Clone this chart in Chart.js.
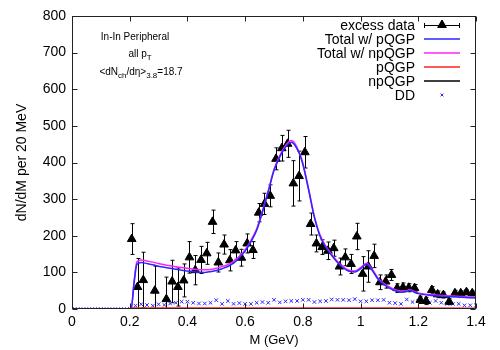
<!DOCTYPE html>
<html>
<head>
<meta charset="utf-8">
<script src="https://cdn.jsdelivr.net/npm/chart.js@4"></script>
<style>
  html, body { margin: 0; padding: 0; background: #fff; }
  #chart { display: block; }
</style>
</head>
<body>
<canvas id="chart" width="500" height="350"></canvas>
<script>
// --- values ---
const massTicks = [0, 0.2, 0.4, 0.6, 0.8, 1.0, 1.2, 1.4];
const yieldTicks = [0, 100, 200, 300, 400, 500, 600, 700, 800];
const seriesNames = ['excess data', 'Total w/ pQGP', 'Total w/ npQGP', 'pQGP', 'npQGP', 'DD'];

// excess data (triangles with error bars)
const excessM = [0.207, 0.227, 0.247, 0.287, 0.327, 0.347, 0.367, 0.387, 0.407, 0.427,
                 0.447, 0.467, 0.487, 0.507, 0.527, 0.547, 0.567, 0.587, 0.607, 0.627,
                 0.647, 0.667, 0.687, 0.707, 0.727, 0.747, 0.767, 0.787, 0.807, 0.827,
                 0.847, 0.867, 0.887, 0.907, 0.927, 0.947, 0.967, 0.987, 1.007, 1.027,
                 1.047, 1.067, 1.087, 1.107, 1.127, 1.147, 1.167, 1.187, 1.207, 1.227,
                 1.247, 1.267, 1.287, 1.307, 1.327, 1.347, 1.367, 1.387];
const excessY = [191, 60, 79, 50, 27, 75, 60, 78, 141, 106,
                 134, 152, 238, 127, 176, 133, 160, 140, 179, 161,
                 263, 287, 309, 410, 439, 451, 343, 363, 428, 232,
                 179, 169, 159, 166, 116, 141, 123, 198, 96, 116,
                 145, 73, 75, 93, 57, 59, 58, 57, 25, 22,
                 52, 40, 38, 20, 43, 43, 46, 43];
const excessErr = [42, 78, 76, 67, 60, 58, 52, 45, 43, 40,
                   37, 30, 32, 26, 26, 29, 24, 23, 26, 23,
                   25, 29, 30, 30, 35, 37, 62, 68, 43, 30,
                   23, 20, 24, 22, 23, 23, 26, 36, 47, 43,
                   32, 20, 18, 15, 12, 12, 11, 10, 10, 10,
                   9, 9, 8, 8, 8, 7, 7, 7];

// model curves
const curveM = [0, 0.1, 0.2, 0.205, 0.215, 0.225, 0.24, 0.26, 0.28, 0.30, 0.32,
                0.35, 0.38, 0.40, 0.43, 0.46, 0.48, 0.50,
                0.52, 0.54, 0.56, 0.58, 0.60, 0.62, 0.64,
                0.66, 0.68, 0.70, 0.72, 0.74, 0.76, 0.77,
                0.78, 0.79, 0.80, 0.82, 0.84, 0.86, 0.88,
                0.90, 0.92, 0.94, 0.96, 0.98, 1.00, 1.02,
                1.04, 1.06, 1.08, 1.10, 1.12, 1.14, 1.16,
                1.17, 1.18, 1.20, 1.25, 1.30, 1.35, 1.40];
const totalPqgpY = [0, 0, 0, 0, 70, 122, 127, 124, 121, 117, 114,
                    110, 106, 104, 101, 100, 102, 105,
                    110, 116, 125, 140, 158, 183, 215,
                    265, 320, 378, 415, 442, 455, 450,
                    437, 420, 395, 325, 250, 198, 168,
                    146, 127, 112, 103, 101, 110, 122,
                    106, 82, 67, 57, 50, 46, 48,
                    51, 48, 42, 37, 34, 32, 30];
const totalNpqgpY = [0, 0, 0, 0, 75, 129, 134, 131, 128, 124, 121,
                     117, 113, 111, 108, 107, 108, 111,
                     116, 121, 130, 144, 162, 187, 219,
                     268, 323, 381, 419, 446, 460, 455,
                     441, 423, 398, 328, 253, 201, 171,
                     149, 130, 115, 106, 104, 113, 125,
                     109, 85, 70, 60, 53, 49, 50,
                     53, 50, 44, 39, 36, 34, 32];
const qgpM = [0, 0.2, 0.21, 0.4, 0.6, 0.8, 1.0, 1.2, 1.4];
const pqgpY = [0, 0, 3, 3, 3, 3, 3, 3, 2];
const npqgpY = [0, 0, 1, 1, 1, 1, 1, 1, 1];

// DD background crosses
const ddM = [0, 0.02, 0.04, 0.06, 0.08, 0.10, 0.12, 0.14, 0.16, 0.18,
             0.20, 0.22, 0.24, 0.26, 0.28, 0.30, 0.32, 0.34, 0.36, 0.38,
             0.40, 0.42, 0.44, 0.46, 0.48, 0.50, 0.52, 0.54, 0.56, 0.58,
             0.60, 0.62, 0.64, 0.66, 0.68, 0.70, 0.72, 0.74, 0.76, 0.78,
             0.80, 0.82, 0.84, 0.86, 0.88, 0.90, 0.92, 0.94, 0.96, 0.98,
             1.00, 1.02, 1.04, 1.06, 1.08, 1.10, 1.12, 1.14, 1.16, 1.18,
             1.20, 1.22, 1.24, 1.26, 1.28, 1.30, 1.32, 1.34, 1.36, 1.38, 1.40];
const ddY = [0, 0, 0, 0, 0, 0, 0, 0, 0, 0,
             1, 9, 13, 11, 9, 13, 11, 15, 17, 20,
             20, 17, 15, 15, 17, 24, 14, 22, 14, 16,
             14, 14, 17, 19, 17, 25, 18, 21, 22, 22,
             25, 25, 19, 21, 22, 26, 25, 25, 24, 27,
             21, 21, 24, 24, 25, 17, 16, 14, 26, 19,
             22, 19, 17, 22, 17, 14, 14, 14, 10, 10, 10];

const BLUE = '#2828ff';
const MAGENTA = '#ff20ff';
const RED = '#ff2020';
const keyColors = ['#000', BLUE, MAGENTA, RED, '#000', BLUE];
const FONT = '"Liberation Sans", Arial, sans-serif';

Chart.defaults.font.family = FONT;
Chart.defaults.color = '#000';

const pts = (xs, ys) => xs.map((m, i) => ({ x: m, y: ys[i] }));

// --- error bars under the triangles ---
const errorBars = {
  id: 'errorBars',
  beforeDatasetsDraw(chart) {
    const { ctx, chartArea, scales: { x, y } } = chart;
    ctx.save();
    ctx.beginPath();
    ctx.rect(chartArea.left, chartArea.top, chartArea.right - chartArea.left, chartArea.bottom - chartArea.top);
    ctx.clip();
    ctx.strokeStyle = '#000';
    ctx.lineWidth = 1;
    excessM.forEach((m, i) => {
      const px = Math.round(x.getPixelForValue(m)) + 0.5;
      const hi = y.getPixelForValue(excessY[i] + excessErr[i]);
      const lo = y.getPixelForValue(excessY[i] - excessErr[i]);
      ctx.beginPath();
      ctx.moveTo(px, hi); ctx.lineTo(px, lo);
      ctx.moveTo(px - 2, hi); ctx.lineTo(px + 2, hi);
      ctx.moveTo(px - 2, lo); ctx.lineTo(px + 2, lo);
      ctx.stroke();
    });
    ctx.restore();
  }
};

// --- gnuplot style frame, inward ticks, key and label ---
const frameKey = {
  id: 'frameKey',
  afterDraw(chart) {
    const { ctx, chartArea: { left, right, top, bottom }, scales: { x, y } } = chart;
    const L = Math.round(left) + 0.5, R = Math.round(right) - 0.5;
    const T = Math.round(top) + 0.5, B = Math.round(bottom) - 0.5;
    ctx.save();
    ctx.strokeStyle = '#222';
    ctx.lineWidth = 1;
    ctx.strokeRect(L, T, R - L, B - T);
    ctx.beginPath();
    massTicks.forEach(v => {
      const px = Math.round(x.getPixelForValue(v)) + 0.5;
      ctx.moveTo(px, B); ctx.lineTo(px, B - 5);
      ctx.moveTo(px, T); ctx.lineTo(px, T + 5);
    });
    yieldTicks.forEach(v => {
      const py = Math.round(y.getPixelForValue(v)) + 0.5;
      ctx.moveTo(L, py); ctx.lineTo(L + 5, py);
      ctx.moveTo(R, py); ctx.lineTo(R - 5, py);
    });
    ctx.stroke();

    // key
    const x0 = 424, x1 = 460, xm = 442;
    seriesNames.forEach((name, i) => {
      const ry = 25 + i * 14;
      const yy = Math.round(ry);
      ctx.font = '14px ' + FONT;
      ctx.textAlign = 'right';
      ctx.textBaseline = 'middle';
      ctx.fillStyle = '#000';
      ctx.fillText(name, 415, ry + 1);

      ctx.strokeStyle = keyColors[i];
      ctx.fillStyle = keyColors[i];
      if (i === 0) {
        ctx.lineWidth = 1;
        ctx.beginPath();
        ctx.moveTo(x0, yy + 0.5); ctx.lineTo(x1, yy + 0.5);
        ctx.moveTo(x0 + 0.5, yy - 2); ctx.lineTo(x0 + 0.5, yy + 3);
        ctx.moveTo(x1 - 0.5, yy - 2); ctx.lineTo(x1 - 0.5, yy + 3);
        ctx.stroke();
        Chart.helpers.drawPoint(ctx, { pointStyle: 'triangle', radius: 5, borderWidth: 1 }, xm, ry);
        ctx.fill();
      } else if (i === 5) {
        ctx.lineWidth = 1;
        Chart.helpers.drawPoint(ctx, { pointStyle: 'crossRot', radius: 2, borderWidth: 1 }, xm, ry);
      } else {
        ctx.lineWidth = 1.6;
        ctx.beginPath();
        ctx.moveTo(x0, yy); ctx.lineTo(x1, yy);
        ctx.stroke();
      }
    });

    // label block
    ctx.fillStyle = '#000';
    ctx.textAlign = 'left';
    ctx.textBaseline = 'alphabetic';
    const line = (parts, cx, by) => {
      let w = 0;
      parts.forEach(([t, sub]) => { ctx.font = (sub ? '8px ' : '10px ') + FONT; w += ctx.measureText(t).width; });
      let cur = cx - w / 2;
      parts.forEach(([t, sub]) => {
        ctx.font = (sub ? '8px ' : '10px ') + FONT;
        ctx.fillText(t, cur, by + (sub ? 3 : 0));
        cur += ctx.measureText(t).width;
      });
    };
    line([['In-In Peripheral', false]], 135, 40);
    line([['all p', false], ['T', true]], 140, 57);
    line([['<dN', false], ['ch', true], ['/d\u03b7>', false], ['3.8', true], ['=18.7', false]], 141, 75);
    ctx.restore();
  }
};

new Chart(document.getElementById('chart'), {
  type: 'scatter',
  data: {
    datasets: [
      {
        label: seriesNames[0],
        data: pts(excessM, excessY),
        pointStyle: 'triangle',
        pointRadius: 5,
        backgroundColor: '#000',
        borderColor: '#000',
        borderWidth: 1,
        showLine: false,
        order: 1
      },
      {
        label: seriesNames[1],
        data: pts(curveM, totalPqgpY),
        showLine: true,
        borderColor: BLUE,
        borderWidth: 1.5,
        pointRadius: 0,
        cubicInterpolationMode: 'monotone',
        order: 0
      },
      {
        label: seriesNames[2],
        data: pts(curveM, totalNpqgpY),
        showLine: true,
        borderColor: MAGENTA,
        borderWidth: 1.5,
        pointRadius: 0,
        cubicInterpolationMode: 'monotone',
        order: 0
      },
      {
        label: seriesNames[3],
        data: pts(qgpM, pqgpY),
        showLine: true,
        borderColor: RED,
        borderWidth: 1.5,
        pointRadius: 0,
        order: 0
      },
      {
        label: seriesNames[4],
        data: pts(qgpM, npqgpY),
        showLine: true,
        borderColor: '#000',
        borderWidth: 1,
        pointRadius: 0,
        order: 0
      },
      {
        label: seriesNames[5],
        data: pts(ddM, ddY),
        pointStyle: 'crossRot',
        pointRadius: 2.5,
        borderColor: BLUE,
        borderWidth: 1,
        showLine: false,
        order: 2
      }
    ]
  },
  options: {
    responsive: false,
    animation: false,
    devicePixelRatio: 1,
    layout: { padding: { left: 14, right: 24, top: 16, bottom: 2 } },
    plugins: {
      legend: { display: false },
      tooltip: { enabled: false }
    },
    scales: {
      x: {
        type: 'linear',
        min: 0,
        max: 1.4,
        afterBuildTicks: scale => { scale.ticks = massTicks.map(v => ({ value: v })); },
        afterFit: scale => { scale.height = 39; },
        ticks: {
          padding: 5,
          maxRotation: 0,
          font: { size: 14 },
          callback: v => String(+v.toFixed(1))
        },
        grid: { display: false, drawTicks: false },
        border: { display: false },
        title: { display: true, text: 'M (GeV)', font: { size: 13 }, padding: 0 }
      },
      y: {
        min: 0,
        max: 800,
        afterBuildTicks: scale => { scale.ticks = yieldTicks.map(v => ({ value: v })); },
        afterFit: scale => { scale.width = 58; },
        ticks: { padding: 6, font: { size: 14 } },
        grid: { display: false, drawTicks: false },
        border: { display: false },
        title: { display: true, text: 'dN/dM per 20 MeV', font: { size: 14 }, padding: 0 }
      }
    }
  },
  plugins: [errorBars, frameKey]
});
</script>
</body>
</html>
